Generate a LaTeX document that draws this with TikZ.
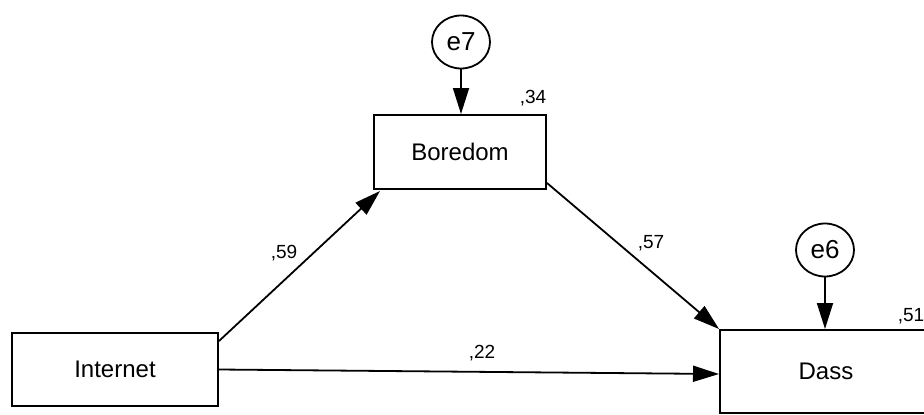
\documentclass[tikz,border=0pt]{standalone}
\usepackage{fontspec}
\setmainfont{Liberation Sans}
\usetikzlibrary{arrows.meta,shapes.geometric,calc}
\begin{document}
\begin{tikzpicture}[x=1pt,y=-1pt,
  box/.style={draw,line width=2pt,inner sep=0pt,font=\fontsize{24}{28}\selectfont},
  err/.style={draw,ellipse,line width=1.8pt,minimum width=58pt,minimum height=53pt,inner sep=0pt,font=\fontsize{26}{30}\selectfont},
  arr/.style={line width=1.8pt,-{Triangle[length=26pt,width=16pt]}},
  coef/.style={font=\fontsize{19}{22}\selectfont,inner sep=0pt}]
\useasboundingbox (0,0) rectangle (924,415);
\clip (0,0) rectangle (924,415);
\fill[white] (0,0) rectangle (924,415);

\node[box,minimum width=206pt,minimum height=73pt] (internet) at (115,369.5) {Internet};
\node[box,minimum width=172pt,minimum height=74pt] (boredom) at (460,152) {Boredom};
\node[box,minimum width=212pt,minimum height=83pt] (dass) at (826,371.5) {Dass};
\node[err] (e7) at (461,42) {e7};
\node[err] (e6) at (825,250) {e6};

\draw[arr] (e7.south) -- (boredom.north -| e7.south);
\draw[arr] (e6.south) -- (dass.north -| e6.south);
\draw[arr] ([yshift=-9pt]internet.north east) -- ([xshift=7pt,yshift=-1pt]boredom.south west);
\draw[arr] ([yshift=7pt]boredom.south east) -- (dass.north west);
\draw[arr] (internet.east) -- ([yshift=-2.5pt]dass.west);

\node[coef] (c59) at (284,253) {,59};
\node[coef] (c57) at (651,243) {,57};
\node[coef] (c22) at (482,353) {,22};
\node[coef] (c34) at (533,98) {,34};
\node[coef] (c51) at (911,316) {,51};
\end{tikzpicture}
\end{document}
